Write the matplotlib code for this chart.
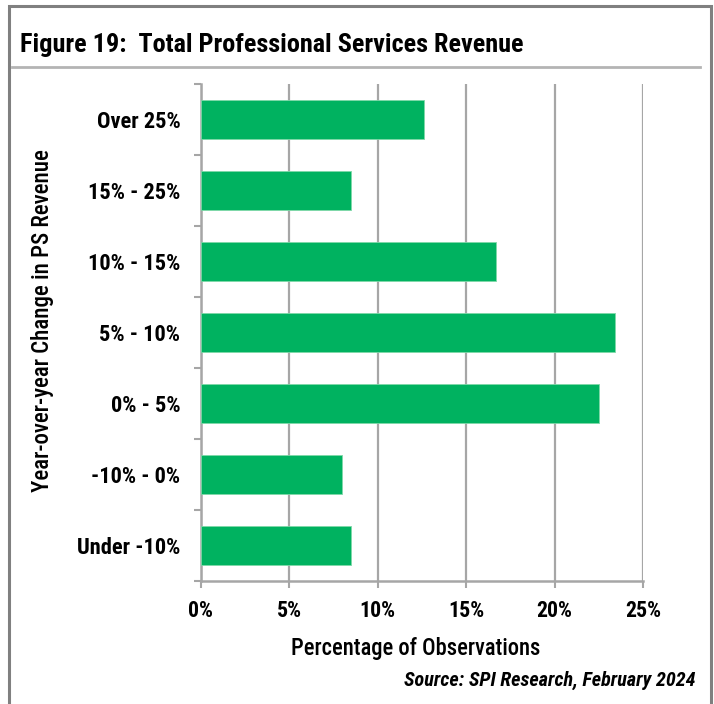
import matplotlib
matplotlib.use("Agg")
import matplotlib.pyplot as plt
from matplotlib import font_manager
from matplotlib.patches import Rectangle
from matplotlib.lines import Line2D
import numpy as np

# change buckets, bottom to top
categories = ["Under -10%", "-10% - 0%", "0% - 5%", "5% - 10%",
              "10% - 15%", "15% - 25%", "Over 25%"]
share = [8.5, 8.0, 22.5, 23.4, 16.7, 8.5, 12.6]   # % of observations
xticks = [0, 5, 10, 15, 20, 25]


def pick_font():
    names = {f.name for f in font_manager.fontManager.ttflist}
    for n in ["Liberation Sans Narrow", "Arial Narrow", "Roboto Condensed"]:
        if n in names:
            return n, 'normal'
    for f in font_manager.fontManager.ttflist:
        if f.name == 'DejaVu Sans' and 'condensed' in str(f.stretch):
            return 'DejaVu Sans', 'condensed'
    return 'Liberation Sans', 'normal'


FAMILY, STRETCH = pick_font()
plt.rcParams['font.family'] = [FAMILY, 'DejaVu Sans']
plt.rcParams['font.stretch'] = STRETCH

W, H = 714, 704
fig = plt.figure(figsize=(W / 100, H / 100), dpi=100)
renderer = fig.canvas.get_renderer()


def fit_size(txt, width_px, **kw):
    # font size that makes txt span width_px
    t = fig.text(0, 0, txt, fontsize=10, **kw)
    w = t.get_window_extent(renderer).width
    t.remove()
    return 10 * width_px / w


def px(x0, y0, x1, y1):
    return [x0 / W, 1 - y1 / H, (x1 - x0) / W, (y1 - y0) / H]


ax = fig.add_axes(px(200.5, 84, 643, 581))

grey = '#A6A6A6'
y = np.arange(len(categories))
ax.barh(y, share, height=0.55, color='#00B260', edgecolor='#7FD8A8', linewidth=0.6, zorder=3)

ytick_fs = fit_size("Over 25%", 84, fontweight='bold')
xtick_fs = fit_size("25%", 36, fontweight='bold')

ax.set_xlim(0, 25)
ax.set_ylim(-0.5, len(categories) - 0.5)
ax.set_xticks(xticks)
ax.set_xticklabels([f"{v}%" for v in xticks], fontsize=xtick_fs, fontweight='bold')
ax.set_yticks(y)
ax.set_yticklabels(categories, fontsize=ytick_fs, fontweight='bold')
ax.set_yticks(np.arange(-0.5, len(categories)), minor=True)
ax.tick_params(axis='y', which='major', length=0, pad=14.5)
ax.tick_params(axis='y', which='minor', length=5, width=1.5, color=grey)
ax.tick_params(axis='x', length=5, width=1.5, color=grey, pad=9)
ax.xaxis.grid(True, color=grey, linewidth=1.6, zorder=0)

for s in ['top', 'right']:
    ax.spines[s].set_visible(False)
for s in ['left', 'bottom']:
    ax.spines[s].set_color(grey)
    ax.spines[s].set_linewidth(1.8)

# axis titles
xl = "Percentage of Observations"
fig.text(416 / W, 1 - 649 / H, xl, fontsize=fit_size(xl, 249, fontweight='medium'),
         fontweight='medium', ha='center', va='center')
yl = "Year-over-year Change in PS Revenue"
fig.text(43 / W, 1 - 321 / H, yl, fontsize=fit_size(yl, 342, fontweight='medium'),
         fontweight='medium', rotation=90, ha='center', va='center')

# title block and frame
title = "Figure 19:  Total Professional Services Revenue"
fig.text(20 / W, 1 - 45 / H, title,
         fontsize=fit_size(title, 505, fontweight='heavy'),
         fontweight='heavy', va='center', ha='left')
fig.add_artist(Line2D([12 / W, 700 / W], [1 - 67 / H, 1 - 67 / H],
                      transform=fig.transFigure, color='#B4B4B4', lw=2))
fig.add_artist(Rectangle((9 / W, -0.02), 701.5 / W, 1.02 - 5.5 / H,
                         transform=fig.transFigure, fill=False,
                         edgecolor='#808080', lw=2.2))

src = "Source: SPI Research, February 2024"
fig.text(695 / W, 1 - 680 / H, src,
         fontsize=fit_size(src, 291, fontweight='heavy', style='italic'),
         fontweight='heavy', style='italic', ha='right', va='center')

fig.savefig("out.png", dpi=100)
